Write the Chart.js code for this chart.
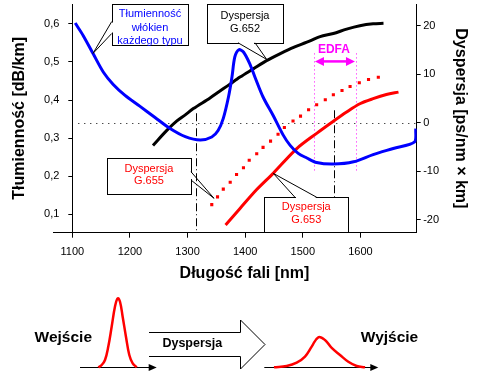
<!DOCTYPE html>
<html>
<head>
<meta charset="utf-8">
<script src="https://cdn.jsdelivr.net/npm/chart.js@4.4.0/dist/chart.umd.min.js"></script>
<style>
  html, body { margin: 0; padding: 0; background: #fff; }
  #wrap { position: relative; width: 478px; height: 375px; }
  #main { position: absolute; left: 0; top: 0; }
  #pulse { position: absolute; left: 0; top: 290px; }
</style>
</head>
<body>
<div id="wrap">
  <canvas id="main" width="478" height="290"></canvas>
  <canvas id="pulse" width="478" height="85"></canvas>
</div>
<script>
// osie
var xTicks = [1100, 1200, 1300, 1400, 1500, 1600];
var attTicks = [0.1, 0.2, 0.3, 0.4, 0.5, 0.6];
var dispTicks = [-20, -10, 0, 10, 20];

// tłumienność włókna [dB/km]
var attNm = [1105, 1119, 1136, 1154, 1171, 1191, 1217, 1243, 1269, 1296, 1322, 1342, 1353, 1362, 1371, 1377, 1382,
             1389, 1397, 1408, 1417, 1431, 1449, 1466, 1478, 1492, 1507, 1524, 1553, 1588, 1622, 1657, 1694, 1696];
var attVal = [0.602, 0.569, 0.522, 0.473, 0.441, 0.413, 0.384, 0.355, 0.326, 0.304, 0.295, 0.303, 0.320, 0.352, 0.408, 0.460, 0.513,
              0.532, 0.526, 0.495, 0.460, 0.408, 0.358, 0.308, 0.281, 0.260, 0.248, 0.236, 0.232, 0.238, 0.257, 0.273, 0.290, 0.325];

// dyspersja [ps/nm x km]
var g652Nm = [1240, 1264, 1281, 1296, 1310, 1339, 1374, 1391, 1414, 1437, 1460, 1484, 1507, 1530, 1553, 1576, 1599, 1622, 1640];
var g652Disp = [-4.7, -1.6, 0.3, 1.6, 2.9, 5.1, 8.0, 9.4, 11.1, 12.8, 14.2, 15.55, 16.6, 17.75, 18.4, 19.3, 20.0, 20.4, 20.5];

var g653Nm = [1366, 1391, 1420, 1449, 1489, 1524, 1553, 1576, 1599, 1622, 1645, 1666];
var g653Disp = [-21.1, -17.7, -13.8, -10.4, -5.4, -2.2, 0.3, 2.2, 3.9, 4.95, 5.8, 6.3];

var g655Nm = [1342, 1352, 1362, 1374, 1385, 1397, 1407, 1420, 1431, 1444, 1457, 1468, 1483, 1496, 1510, 1524, 1539, 1553, 1568, 1582, 1598, 1614, 1631];
var g655Disp = [-16.9, -15.3, -13.7, -12.3, -10.7, -9.3, -7.75, -6.4, -5.1, -3.8, -2.4, -1.0, 0.33, 1.36, 2.67, 3.7, 4.73, 5.76, 6.64, 7.47, 8.23, 8.9, 9.38];

// impulsy na dole (czas, amplituda)
var pulseInT = [98.3, 101.7, 105, 108.3, 111.7, 115, 117.7, 120, 122.7, 126, 129.3, 132.7, 136.7];
var pulseInA = [0, 0.033, 0.106, 0.30, 0.59, 0.88, 1.0, 0.95, 0.73, 0.44, 0.178, 0.058, 0];
var pulseOutT = [274, 286.7, 296.7, 305, 311.7, 318.3, 325, 331.7, 340, 348.3, 356.7, 365];
var pulseOutA = [0, 0.019, 0.067, 0.155, 0.30, 0.435, 0.395, 0.28, 0.178, 0.08, 0.019, 0];

var fontFamily = '"Liberation Sans", Arial, sans-serif';
Chart.defaults.font.family = fontFamily;
Chart.defaults.color = '#000';

function pts(xs, ys) {
    return xs.map(function (x, i) { return {x: x, y: ys[i]}; });
}

function fixBox(size) {
    return function (scale) {
        if (scale.isHorizontal()) scale.height = size; else scale.width = size;
        scale.paddingLeft = 0; scale.paddingRight = 0;
        scale.paddingTop = 0; scale.paddingBottom = 0;
    };
}

function setTicks(list) {
    return function (scale) {
        scale.ticks = list.map(function (v) { return {value: v}; });
    };
}

// callouty: box [x1, y1, x2, y2], wedge [a, b, tip] w jednostkach osi x / lewej osi y
var callouts = [
    {box: [1168.4, 0.6523, 1301.3, 0.5432], base: [[1168.4, 0.606], [1168.4, 0.5746]], tip: [1135.9, 0.5223],
     tx: 1234.8, ty: [0.6256, 0.5903, 0.5563], lines: ['Tłumienność', 'włókien', 'każdego typu'], color: '#0000ff'},
    {box: [1333.2, 0.6523, 1466.1, 0.5503], base: [[1387.5, 0.5503], [1417, 0.5503]], tip: [1437.3, 0.5066],
     tx: 1399.7, ty: [0.6217, 0.5869], lines: ['Dyspersja', 'G.652'], color: '#000'},
    {box: [1160.7, 0.2469, 1306, 0.1543], base: [[1306, 0.2118], [1306, 0.1901]], tip: [1345.9, 0.1422],
     tx: 1233, ty: [0.2202, 0.1883], lines: ['Dyspersja', 'G.655'], color: '#ff0000'},
    {box: [1433.2, 0.1449, 1578.9, 0.0549], base: [[1486.4, 0.1449], [1524.1, 0.1449]], tip: [1448.8, 0.2076],
     tx: 1506, ty: [0.1187, 0.0855], lines: ['Dyspersja', 'G.653'], color: '#ff0000'}
];

var overlay = {
    id: 'overlay',
    beforeDatasetsDraw: function (chart) {
        var ctx = chart.ctx, area = chart.chartArea;
        var X = function (v) { return chart.scales.x.getPixelForValue(v); };
        var Y = function (v) { return chart.scales.y.getPixelForValue(v); };
        var Y2 = function (v) { return chart.scales.y2.getPixelForValue(v); };
        ctx.save();
        // linia zerowej dyspersji
        var yz = Math.round(Y2(0)) + 0.5;
        ctx.strokeStyle = '#000';
        ctx.lineWidth = 1;
        ctx.setLineDash([1, 5]);
        ctx.beginPath();
        ctx.moveTo(area.left + 6, yz);
        ctx.lineTo(area.right, yz);
        ctx.stroke();
        // długości fal zerowej dyspersji
        ctx.setLineDash([8, 3, 1, 3]);
        [[1314, 0.3654], [1553.6, 0.3732]].forEach(function (p) {
            var x = Math.round(X(p[0])) + 0.5;
            ctx.beginPath();
            ctx.moveTo(x, Y(p[1]));
            ctx.lineTo(x, area.bottom);
            ctx.stroke();
        });
        // okno EDFA
        ctx.strokeStyle = '#ff00ff';
        ctx.setLineDash([1, 3]);
        [1519.9, 1592.8].forEach(function (v) {
            var x = Math.round(X(v)) + 0.5;
            ctx.beginPath();
            ctx.moveTo(x, Y(0.5223));
            ctx.lineTo(x, Y(0.2137));
            ctx.stroke();
        });
        ctx.restore();
    },
    afterDatasetsDraw: function (chart) {
        var ctx = chart.ctx, area = chart.chartArea;
        var X = function (v) { return chart.scales.x.getPixelForValue(v); };
        var Y = function (v) { return chart.scales.y.getPixelForValue(v); };
        ctx.save();
        ctx.setLineDash([]);

        callouts.forEach(function (c) {
            var x1 = Math.round(X(c.box[0])) + 0.5, y1 = Math.round(Y(c.box[1])) + 0.5;
            var x2 = Math.round(X(c.box[2])) + 0.5, y2 = Math.round(Y(c.box[3])) + 0.5;
            var a = [X(c.base[0][0]), Y(c.base[0][1])], b = [X(c.base[1][0]), Y(c.base[1][1])];
            var t = [X(c.tip[0]), Y(c.tip[1])];
            ctx.fillStyle = '#fff';
            ctx.fillRect(x1, y1, x2 - x1, y2 - y1);
            ctx.strokeStyle = '#000';
            ctx.lineWidth = 1;
            ctx.strokeRect(x1, y1, x2 - x1, y2 - y1);
            // przerwa w ramce pod odnośnikiem
            ctx.strokeStyle = '#fff';
            ctx.lineWidth = 2;
            ctx.beginPath();
            if (Math.abs(a[0] - b[0]) < 1) {
                var xe = a[0] < (x1 + x2) / 2 ? x1 : x2;
                ctx.moveTo(xe, Math.min(a[1], b[1]) + 1);
                ctx.lineTo(xe, Math.max(a[1], b[1]) - 1);
            } else {
                var ye = a[1] < (y1 + y2) / 2 ? y1 : y2;
                ctx.moveTo(Math.min(a[0], b[0]) + 1, ye);
                ctx.lineTo(Math.max(a[0], b[0]) - 1, ye);
            }
            ctx.stroke();
            ctx.strokeStyle = '#000';
            ctx.lineWidth = 1;
            ctx.beginPath();
            ctx.moveTo(a[0], a[1]);
            ctx.lineTo(t[0], t[1]);
            ctx.lineTo(b[0], b[1]);
            ctx.stroke();
            ctx.fillStyle = c.color;
            ctx.font = '11px ' + fontFamily;
            ctx.textAlign = 'center';
            ctx.textBaseline = 'middle';
            c.lines.forEach(function (s, i) {
                ctx.fillText(s, X(c.tx), Y(c.ty[i]));
            });
        });

        // EDFA
        var ya = Y(0.5014), xa = X(1521.1), xb = X(1590.5);
        ctx.fillStyle = '#ff00ff';
        ctx.strokeStyle = '#ff00ff';
        ctx.lineWidth = 2.5;
        ctx.beginPath();
        ctx.moveTo(xa + 6, ya);
        ctx.lineTo(xb - 6, ya);
        ctx.stroke();
        ctx.beginPath();
        ctx.moveTo(xa, ya); ctx.lineTo(xa + 9, ya - 4.5); ctx.lineTo(xa + 9, ya + 4.5); ctx.closePath();
        ctx.moveTo(xb, ya); ctx.lineTo(xb - 9, ya - 4.5); ctx.lineTo(xb - 9, ya + 4.5); ctx.closePath();
        ctx.fill();
        ctx.font = 'bold 12px ' + fontFamily;
        ctx.textAlign = 'center';
        ctx.textBaseline = 'middle';
        ctx.fillText('EDFA', X(1554), Y(0.5328));

        // oś x wystaje w lewo za oś y
        var yb = Math.round(area.bottom - 0.5) + 0.5;
        ctx.strokeStyle = '#000';
        ctx.lineWidth = 1;
        ctx.beginPath();
        ctx.moveTo(X(1066.5), yb);
        ctx.lineTo(area.left, yb);
        ctx.stroke();
        ctx.restore();
    }
};

new Chart(document.getElementById('main'), {
    type: 'line',
    data: {
        datasets: [
            {
                label: 'Tłumienność',
                data: pts(attNm, attVal),
                yAxisID: 'y',
                borderColor: '#0000ff',
                borderWidth: 3,
                pointRadius: 0,
                tension: 0.3
            },
            {
                label: 'G.652',
                data: pts(g652Nm, g652Disp),
                yAxisID: 'y2',
                borderColor: '#000',
                borderWidth: 3,
                pointRadius: 0,
                tension: 0.3
            },
            {
                label: 'G.653',
                data: pts(g653Nm, g653Disp),
                yAxisID: 'y2',
                borderColor: '#ff0000',
                borderWidth: 3,
                pointRadius: 0,
                tension: 0.3
            },
            {
                label: 'G.655',
                data: pts(g655Nm, g655Disp),
                yAxisID: 'y2',
                showLine: false,
                pointStyle: 'rect',
                pointRadius: 2.2,
                pointBorderWidth: 0,
                pointBackgroundColor: '#ff0000',
                pointBorderColor: '#ff0000'
            }
        ]
    },
    options: {
        responsive: false,
        animation: false,
        layout: {padding: {top: 3.3, left: 0, right: 0, bottom: 0}},
        plugins: {
            legend: {display: false},
            tooltip: {enabled: false}
        },
        scales: {
            x: {
                type: 'linear',
                min: 1100,
                max: 1697.6,
                afterBuildTicks: setTicks(xTicks),
                afterFit: fixBox(57.3),
                grid: {drawOnChartArea: false, tickLength: 5, color: '#000'},
                border: {display: true, color: '#000', width: 1},
                ticks: {
                    color: '#000',
                    font: {size: 11},
                    padding: 8,
                    maxRotation: 0,
                    callback: function (v) { return String(v); }
                },
                title: {
                    display: true,
                    text: 'Długość fali [nm]',
                    color: '#000',
                    font: {size: 16, weight: 'bold'},
                    padding: {top: 0, bottom: 7}
                }
            },
            y: {
                position: 'left',
                min: 0.052,
                max: 0.652,
                afterBuildTicks: setTicks(attTicks),
                afterFit: fixBox(72.3),
                grid: {drawOnChartArea: false, tickLength: 4, color: '#000'},
                border: {display: true, color: '#000', width: 1},
                ticks: {
                    color: '#000',
                    font: {size: 11},
                    padding: 9,
                    callback: function (v) { return v.toFixed(1).replace('.', ','); }
                },
                title: {
                    display: true,
                    text: 'Tłumienność [dB/km]',
                    color: '#000',
                    font: {size: 16, weight: 'bold'},
                    padding: {top: 10, bottom: 0}
                }
            },
            y2: {
                position: 'right',
                min: -22.7,
                max: 24.48,
                afterBuildTicks: setTicks(dispTicks),
                afterFit: fixBox(61.3),
                grid: {drawOnChartArea: false, tickLength: 4, color: '#000'},
                border: {display: true, color: '#000', width: 1},
                ticks: {
                    color: '#000',
                    font: {size: 11},
                    padding: 2.5,
                    callback: function (v) { return String(v); }
                },
                title: {
                    display: true,
                    text: 'Dyspersja [ps/nm × km]',
                    color: '#000',
                    font: {size: 16, weight: 'bold'},
                    padding: {top: 8, bottom: 0}
                }
            }
        }
    },
    plugins: [overlay]
});

// schemat: impuls przed i po dyspersji
var pulseDeco = {
    id: 'pulseDeco',
    beforeDatasetsDraw: function (chart) {
        var ctx = chart.ctx;
        var X = function (v) { return chart.scales.x.getPixelForValue(v); };
        var y0 = Math.round(chart.scales.y.getPixelForValue(0)) + 0.5;
        ctx.save();
        ctx.strokeStyle = '#000';
        ctx.fillStyle = '#000';
        ctx.lineWidth = 1;
        [[80, 156.7], [264.3, 378.3]].forEach(function (r) {
            var x1 = X(r[0]), x2 = X(r[1]);
            ctx.beginPath();
            ctx.moveTo(x1, y0);
            ctx.lineTo(x2 - 4, y0);
            ctx.stroke();
            ctx.beginPath();
            ctx.moveTo(x2, y0);
            ctx.lineTo(x2 - 8, y0 - 3.5);
            ctx.lineTo(x2 - 8, y0 + 3.5);
            ctx.closePath();
            ctx.fill();
        });
        // pusta strzałka
        ctx.beginPath();
        ctx.moveTo(X(149), 42.5);
        ctx.lineTo(X(240.5), 42.5);
        ctx.lineTo(X(240.5), 30);
        ctx.lineTo(X(265), 54.5);
        ctx.lineTo(X(240.5), 79);
        ctx.lineTo(X(240.5), 66.5);
        ctx.lineTo(X(149), 66.5);
        ctx.stroke();
        ctx.textAlign = 'center';
        ctx.textBaseline = 'middle';
        ctx.font = 'bold 12.5px ' + fontFamily;
        ctx.fillText('Dyspersja', X(192.3), 53.5);
        ctx.font = 'bold 15.5px ' + fontFamily;
        ctx.fillText('Wejście', X(63.3), 47.3);
        ctx.fillText('Wyjście', X(389.5), 47.3);
        ctx.restore();
    }
};

new Chart(document.getElementById('pulse'), {
    type: 'line',
    data: {
        datasets: [
            {
                label: 'Wejście',
                data: pts(pulseInT, pulseInA),
                borderColor: '#ff0000',
                borderWidth: 2.5,
                pointRadius: 0,
                tension: 0.4
            },
            {
                label: 'Wyjście',
                data: pts(pulseOutT, pulseOutA),
                borderColor: '#ff0000',
                borderWidth: 2.5,
                pointRadius: 0,
                tension: 0.4
            }
        ]
    },
    options: {
        responsive: false,
        animation: false,
        layout: {padding: 0},
        plugins: {
            legend: {display: false},
            tooltip: {enabled: false}
        },
        scales: {
            x: {type: 'linear', min: 0, max: 478, display: false},
            y: {min: -0.1116, max: 1.12, display: false}
        }
    },
    plugins: [pulseDeco]
});
</script>
</body>
</html>
